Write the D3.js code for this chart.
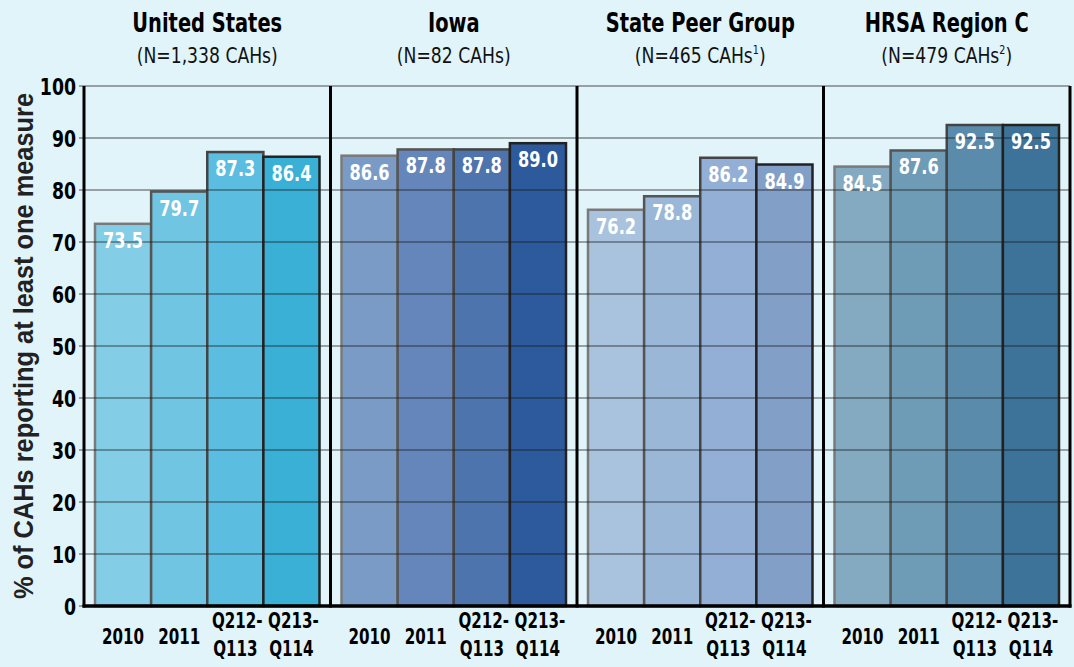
<!DOCTYPE html>
<html><head><meta charset="utf-8">
<script src="https://cdn.jsdelivr.net/npm/d3@7"></script>
<style>
html,body{margin:0;padding:0;background:#e0f4fa;}
svg{display:block;}
</style></head>
<body>
<svg id="c" width="1074" height="667"></svg>
<script>
const groups = ["United States","Iowa","State Peer Group","HRSA Region C"];
const subtitles = [["(N=1,338 CAHs",""],["(N=82 CAHs",""],["(N=465 CAHs","1"],["(N=479 CAHs","2"]];
const categories = ["2010","2011","Q212-Q113","Q213-Q114"];
const usValues = [73.5,79.7,87.3,86.4];
const iowaValues = [86.6,87.8,87.8,89.0];
const peerValues = [76.2,78.8,86.2,84.9];
const hrsaValues = [84.5,87.6,92.5,92.5];
const yTicks = [0,10,20,30,40,50,60,70,80,90,100];
const seriesValues = [usValues, iowaValues, peerValues, hrsaValues];
const colors = [
  ["#84cde6","#6fc5e2","#5bbddf","#3ab0d6"],
  ["#7a9bc6","#6586ba","#4e74ad","#2c5a9c"],
  ["#a9c2de","#9ab7d8","#93afd5","#829fc8"],
  ["#84aac1","#6e9bb6","#5a8bab","#3d7398"]
];
const strokes = ["#7a7a7a","#555","#444","#222"];

const cond = "'DejaVu Sans Condensed','DejaVu Sans',sans-serif";
const svg = d3.select("#c");
const x0 = d3.scaleBand().domain(groups).range([84,1070]).paddingInner(0).paddingOuter(0);
const x1 = d3.scaleBand().domain(categories).range([0,x0.bandwidth()]).paddingInner(0).paddingOuter(0.196);
const y = d3.scaleLinear().domain([0,100]).range([606,86]);

function ctext(parent, x, yy, sx) {
  return parent.append("g").attr("transform",`translate(${x},${yy}) scale(${sx},1)`)
    .append("text").attr("x",0).attr("y",0).attr("text-anchor","middle");
}

// bars
groups.forEach((g,gi)=>{
  const gg = svg.append("g").attr("transform",`translate(${x0(g)},0)`);
  gg.selectAll("rect").data(seriesValues[gi]).join("rect")
    .attr("x",(d,i)=>x1(categories[i]))
    .attr("y",d=>y(d))
    .attr("width",x1.bandwidth())
    .attr("height",d=>y(0)-y(d))
    .attr("fill",(d,i)=>colors[gi][i])
    .attr("stroke",(d,i)=>strokes[i])
    .attr("stroke-width",2.5);
});

// gridlines
svg.append("g").selectAll("line").data(yTicks).join("line")
  .attr("x1",79).attr("x2",1070)
  .attr("y1",d=>y(d)).attr("y2",d=>y(d))
  .attr("stroke","#1a1a1a").attr("stroke-opacity",0.75).attr("stroke-width",1.2);

// value labels
groups.forEach((g,gi)=>{
  seriesValues[gi].forEach((d,i)=>{
    ctext(svg, x0(g)+x1(categories[i])+x1.bandwidth()/2, y(d)+24, 0.82)
      .attr("fill","#fff").attr("font-family",cond).attr("font-weight","bold").attr("font-size",22)
      .text(d.toFixed(1));
  });
});

// frame: left axis, dividers, right, baseline
const vx = [84, ...groups.slice(1).map(g=>x0(g)), 1070];
svg.append("g").selectAll("line").data(vx).join("line")
  .attr("x1",d=>d).attr("x2",d=>d).attr("y1",y(100)).attr("y2",y(0)+1.5)
  .attr("stroke","#000").attr("stroke-width",3);
svg.append("line").attr("x1",82.5).attr("x2",1071.5).attr("y1",y(0)).attr("y2",y(0))
  .attr("stroke","#000").attr("stroke-width",3.5);

// y tick labels
const yAxis = d3.axisLeft(y).tickValues(yTicks).tickSize(0).tickPadding(0);
const ya = svg.append("g").attr("transform","translate(76,0)").call(yAxis);
ya.select(".domain").remove();
ya.selectAll("text").attr("font-family",cond).attr("font-weight","bold")
  .attr("font-size",23.5).attr("fill","#000").attr("dy","0.36em")
  .attr("transform","scale(0.82,1)");

// y axis title
svg.append("text").attr("transform","translate(33,346) rotate(-90)")
  .attr("text-anchor","middle").attr("font-family","'Liberation Sans',Arial,sans-serif")
  .attr("font-weight","bold").attr("font-size",27).attr("fill","#222")
  .attr("textLength",506).attr("lengthAdjust","spacingAndGlyphs")
  .text("% of CAHs reporting at least one measure");

// titles
groups.forEach((g,gi)=>{
  const cx = x0(g)+x0.bandwidth()/2;
  ctext(svg, cx, 32, 0.8).attr("font-family",cond).attr("font-weight","bold")
    .attr("font-size",27).attr("fill","#000").text(g);
  const t = ctext(svg, cx, 63, 0.89).attr("font-family",cond).attr("font-size",21.5).attr("fill","#111");
  t.append("tspan").text(subtitles[gi][0]);
  if (subtitles[gi][1]) t.append("tspan").attr("dy",-9).attr("font-size",12).text(subtitles[gi][1]);
  t.append("tspan").attr("dy",subtitles[gi][1]?9:0).text(")");
});

// x category labels
groups.forEach((g,gi)=>{
  categories.forEach(c=>{
    const cx = x0(g)+x1(c)+x1.bandwidth()/2;
    const parts = c.includes("-") ? [c.split("-")[0]+"-", c.split("-")[1]] : [c];
    const lab = (xx,yy,s)=>ctext(svg, xx, yy, 0.8).attr("font-family",cond).attr("font-weight","bold")
        .attr("font-size",21).attr("fill","#000").text(s);
    if (parts.length===1) {
      lab(cx, 644, parts[0]);
    } else {
      lab(cx+2, 628, parts[0]);
      lab(cx, 656, parts[1]);
    }
  });
});
</script>
</body></html>
